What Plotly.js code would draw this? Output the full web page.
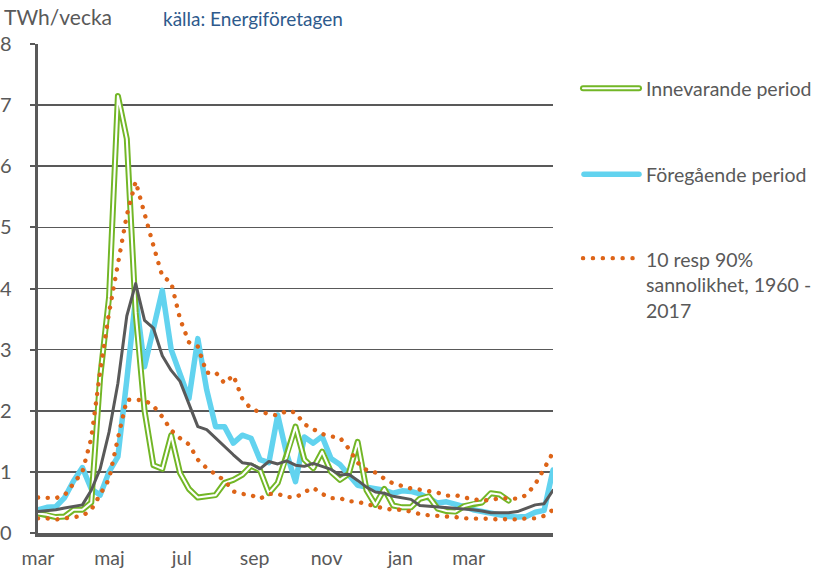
<!DOCTYPE html>
<html>
<head>
<meta charset="utf-8">
<script src="https://cdn.plot.ly/plotly-3.0.1.min.js"></script>
<style>
  html, body { margin: 0; padding: 0; background: #fff; }
  #chart { width: 815px; height: 574px; }
  .js-line, .shapelayer path { stroke-linecap: round; stroke-linejoin: round; }
</style>
</head>
<body>
<div id="chart"></div>
<script>
// week index (weekly data, March to April next year)
const weeks = [0,1,2,3,4,5,6,7,8,9,10,11,12,13,14,15,16,17,18,19,20,21,22,23,24,25,26,27,28,29,
  30,31,32,33,34,35,36,37,38,39,40,41,42,43,44,45,46,47,48,49,50,51,52,53,54,55,56,57,58];

const monthTickPos = [0, 8.05, 16.2, 24.4, 32.5, 40.8, 48.5];
const monthLabels = ["mar", "maj", "jul", "sep", "nov", "jan", "mar"];

// Innevarande period (TWh/vecka)
const current = [0.32,0.30,0.26,0.27,0.38,0.38,0.50,2.55,3.85,7.15,6.45,3.60,2.00,1.11,1.05,1.60,0.98,0.72,0.58,0.60,
  0.62,0.82,0.87,0.95,1.10,1.03,0.65,0.82,1.25,1.74,1.20,1.06,1.33,1.00,0.87,0.97,1.49,0.70,0.46,0.72,
  0.45,0.42,0.42,0.56,0.60,0.40,0.36,0.35,0.44,0.48,0.50,0.65,0.63,0.53,null,null,null,null,null];

// Föregående period
const previous = [0.38,0.42,0.43,0.58,0.85,1.07,0.72,0.62,1.00,1.25,2.50,3.86,2.72,3.35,3.97,3.00,2.60,2.20,3.18,2.34,
  1.74,1.74,1.47,1.60,1.55,1.20,1.15,1.93,1.30,0.84,1.57,1.47,1.58,1.22,1.12,0.95,0.78,0.75,0.73,0.70,
  0.65,0.69,0.68,0.64,0.57,0.49,0.51,0.48,0.43,0.38,0.35,0.31,0.28,0.27,0.26,0.27,0.34,0.37,1.03];

// median (grey line)
const median = [0.35,0.36,0.38,0.41,0.44,0.46,0.70,1.05,1.65,2.45,3.55,4.08,3.48,3.35,2.90,2.66,2.48,2.12,1.74,1.69,
  1.55,1.42,1.28,1.15,1.13,1.05,1.17,1.13,1.18,1.11,1.09,1.14,1.09,1.04,0.95,0.96,0.86,0.75,0.67,0.65,
  0.60,0.58,0.55,0.45,0.44,0.43,0.42,0.41,0.40,0.38,0.36,0.33,0.33,0.33,0.35,0.40,0.46,0.48,0.70];

// 90 % sannolikhet (upper)
const p90 = [0.58,0.58,0.57,0.62,0.80,1.00,1.55,2.65,3.60,4.40,5.20,5.75,5.20,4.70,4.20,4.10,3.50,3.12,3.05,2.62,
  2.63,2.45,2.58,2.20,2.03,1.98,1.95,1.92,2.00,1.97,1.78,1.69,1.62,1.58,1.56,1.38,1.15,1.03,0.99,0.89,
  0.81,0.77,0.73,0.71,0.69,0.66,0.61,0.62,0.58,0.55,0.53,0.54,0.57,0.57,0.56,0.62,0.80,1.05,1.32];

// 10 % sannolikhet (lower)
const p10 = [0.24,0.24,0.22,0.24,0.26,0.28,0.38,0.62,0.88,1.55,2.18,2.18,2.17,2.08,1.90,1.68,1.55,1.45,1.20,1.06,
  0.95,0.86,0.68,0.64,0.62,0.56,0.64,0.64,0.59,0.58,0.67,0.74,0.64,0.57,0.57,0.52,0.51,0.47,0.43,0.40,
  0.38,0.38,0.35,0.31,0.29,0.28,0.28,0.26,0.24,0.24,0.24,0.23,0.22,0.23,0.22,0.24,0.24,0.28,0.38];

const legendLabels = ["Innevarande period", "Föregående period", "10 resp 90%<br>sannolikhet, 1960 -<br>2017"];
const yUnit = "TWh/vecka";
const sourceText = "källa: Energiföretagen";

const GREEN = "#72B626", BLUE = "#62D3EF", GREY = "#595959", ORANGE = "#DD6418", TEXT = "#595959";
const FONT = "Lato, 'Open Sans', sans-serif";
const DOT = "0.1px,9.6px";

// plot area in pixels
const L = 38, R = 553, T = 43.7, B = 533;
const px = x => (x - L) / (R - L);
const py = y => (B - y) / (B - T);

const traces = [
  {x: weeks, y: previous, mode: "lines", line: {color: BLUE, width: 5.5}, showlegend: false, hoverinfo: "skip"},
  {x: weeks, y: current, mode: "lines", line: {color: GREEN, width: 6}, showlegend: false, hoverinfo: "skip"},
  {x: weeks, y: current, mode: "lines", line: {color: "#ffffff", width: 2.1}, showlegend: false, hoverinfo: "skip"},
  {x: weeks, y: median, mode: "lines", line: {color: GREY, width: 3}, showlegend: false, hoverinfo: "skip"},
  {x: weeks, y: p10, mode: "lines", line: {color: ORANGE, width: 4.4, dash: DOT}, showlegend: false, hoverinfo: "skip"},
  {x: weeks, y: p90, mode: "lines", line: {color: ORANGE, width: 4.4, dash: DOT}, showlegend: false, hoverinfo: "skip"}
];

const legendY = [88, 174, 258];
const shapes = [
  {type: "line", xref: "paper", yref: "paper", x0: px(583), x1: px(639), y0: py(legendY[0]), y1: py(legendY[0]), line: {color: GREEN, width: 6}},
  {type: "line", xref: "paper", yref: "paper", x0: px(583), x1: px(639), y0: py(legendY[0]), y1: py(legendY[0]), line: {color: "#ffffff", width: 2.1}},
  {type: "line", xref: "paper", yref: "paper", x0: px(584), x1: px(639), y0: py(legendY[1]), y1: py(legendY[1]), line: {color: BLUE, width: 5.5}},
  {type: "line", xref: "paper", yref: "paper", x0: px(583), x1: px(633), y0: py(legendY[2]), y1: py(legendY[2]), line: {color: ORANGE, width: 4.4, dash: "0.1px,9.8px"}}
];

const annotations = [
  {text: yUnit, xref: "paper", yref: "paper", x: px(2), y: py(16), xanchor: "left", yanchor: "middle", showarrow: false,
   font: {family: FONT, size: 21, color: TEXT}},
  {text: sourceText, xref: "paper", yref: "paper", x: px(161), y: py(18), xanchor: "left", yanchor: "middle", showarrow: false,
   font: {family: FONT, size: 19, color: "#2E5A8C"}},
  {text: legendLabels[0], xref: "paper", yref: "paper", x: px(644), y: py(legendY[0]), xanchor: "left", yanchor: "middle", showarrow: false,
   font: {family: FONT, size: 19.5, color: TEXT}},
  {text: legendLabels[1], xref: "paper", yref: "paper", x: px(644), y: py(legendY[1]), xanchor: "left", yanchor: "middle", showarrow: false,
   font: {family: FONT, size: 19.5, color: TEXT}},
  {text: legendLabels[2], xref: "paper", yref: "paper", x: px(644), y: py(legendY[2] - 12.5), xanchor: "left", yanchor: "top", align: "left", showarrow: false,
   font: {family: FONT, size: 19.5, color: TEXT}}
];

const layout = {
  width: 815, height: 574,
  margin: {l: L, r: 815 - R, t: T, b: 574 - B, pad: 0},
  paper_bgcolor: "#ffffff", plot_bgcolor: "#ffffff",
  font: {family: FONT, color: TEXT},
  showlegend: false,
  xaxis: {
    range: [0, 58], showgrid: false, zeroline: false,
    showline: true, linecolor: GREY, linewidth: 3.5,
    tickmode: "array", tickvals: monthTickPos, ticktext: monthLabels,
    ticks: "", tickfont: {family: FONT, size: 19.5, color: TEXT}, ticklabelstandoff: 5
  },
  yaxis: {
    range: [0, 8], dtick: 1, tick0: 0, showgrid: true, gridcolor: GREY, gridwidth: 1.6, zeroline: false,
    showline: true, linecolor: GREY, linewidth: 3.5,
    ticks: "outside", ticklen: 5, tickwidth: 2, tickcolor: GREY,
    tickfont: {family: FONT, size: 20, color: TEXT}, ticklabelstandoff: 14
  },
  shapes: shapes,
  annotations: annotations
};

Plotly.newPlot("chart", traces, layout, {staticPlot: true, displayModeBar: false});
</script>
</body>
</html>
